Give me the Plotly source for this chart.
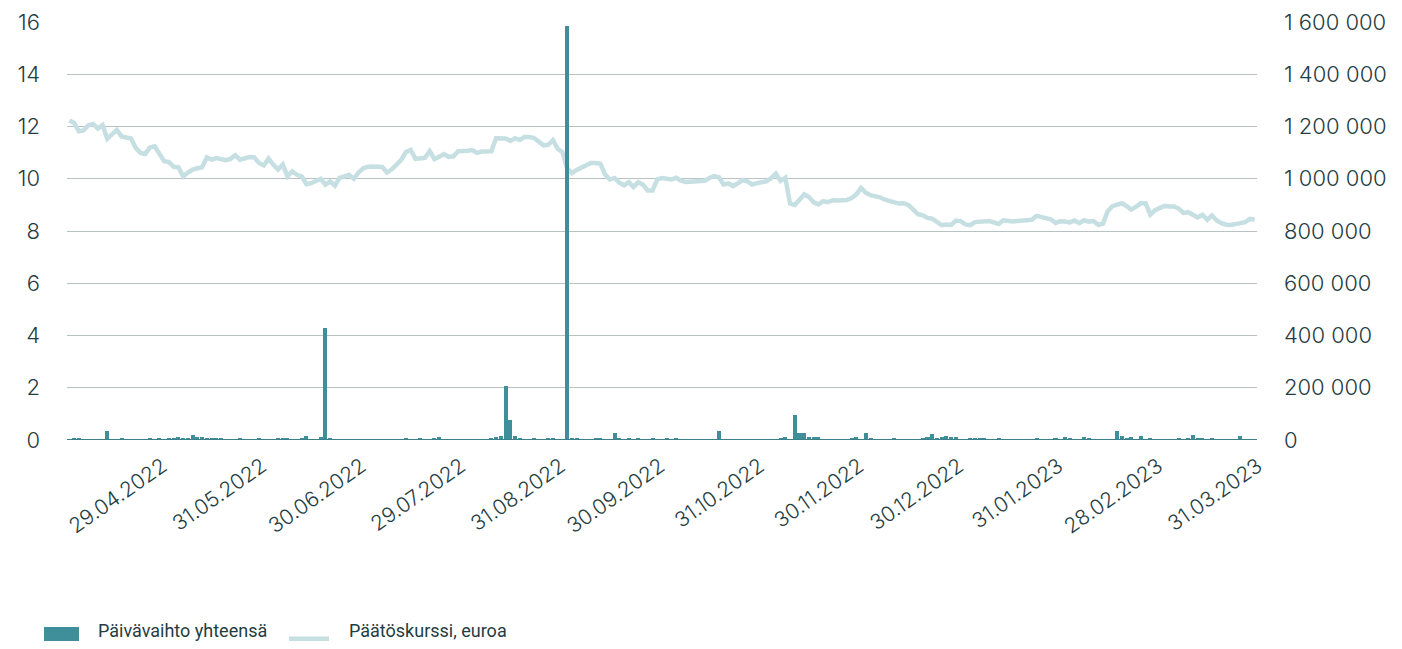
import plotly.graph_objects as go

# Päätöskurssi, euroa (one value per trading day, 252 days)
price = [
    12.23, 12.14, 11.82, 11.85, 12.05, 12.10, 11.92, 12.05, 11.53, 11.69, 11.87, 11.62, 11.60, 11.54, 11.18, 10.99, 10.95, 11.20, 11.24, 10.92, 10.67,
    10.64, 10.46, 10.44, 10.09, 10.24, 10.35, 10.40, 10.44, 10.82, 10.73, 10.79, 10.76, 10.71, 10.76, 10.90, 10.73, 10.79, 10.83, 10.82, 10.60, 10.51,
    10.77, 10.54, 10.35, 10.54, 10.09, 10.28, 10.15, 10.09, 9.79, 9.83, 9.92, 10.00, 9.77, 9.90, 9.73, 10.03, 10.09, 10.15, 10.00, 10.24, 10.40,
    10.46, 10.47, 10.47, 10.45, 10.24, 10.36, 10.54, 10.72, 11.02, 11.10, 10.76, 10.78, 10.80, 11.06, 10.75, 10.84, 10.94, 10.84, 10.86, 11.05, 11.05,
    11.07, 11.10, 10.99, 11.04, 11.05, 11.05, 11.55, 11.56, 11.54, 11.45, 11.55, 11.48, 11.60, 11.60, 11.56, 11.42, 11.28, 11.30, 11.48, 11.15, 11.02,
    10.40, 10.22, 10.34, 10.44, 10.50, 10.60, 10.60, 10.57, 10.16, 9.97, 10.03, 9.85, 9.75, 9.87, 9.68, 9.87, 9.77, 9.55, 9.55, 9.98, 10.03,
    10.02, 9.97, 10.04, 9.93, 9.88, 9.90, 9.88, 9.91, 9.92, 10.03, 10.10, 10.06, 9.78, 9.82, 9.72, 9.82, 9.95, 9.90, 9.78, 9.83, 9.86,
    9.90, 10.02, 10.20, 9.92, 10.04, 9.05, 9.00, 9.20, 9.40, 9.30, 9.10, 9.02, 9.14, 9.10, 9.18, 9.17, 9.17, 9.19, 9.26, 9.40, 9.65,
    9.46, 9.37, 9.35, 9.29, 9.20, 9.14, 9.10, 9.05, 9.06, 9.00, 8.82, 8.64, 8.60, 8.50, 8.47, 8.35, 8.22, 8.25, 8.23, 8.40, 8.38,
    8.25, 8.22, 8.34, 8.36, 8.40, 8.38, 8.33, 8.27, 8.41, 8.38, 8.36, 8.38, 8.41, 8.42, 8.43, 8.58, 8.54, 8.53, 8.45, 8.31, 8.37,
    8.36, 8.33, 8.40, 8.30, 8.41, 8.36, 8.38, 8.24, 8.28, 8.76, 8.95, 9.02, 9.06, 8.95, 8.82, 8.93, 9.06, 9.06, 8.63, 8.80, 8.86,
    8.96, 8.94, 8.94, 8.86, 8.69, 8.72, 8.62, 8.52, 8.62, 8.43, 8.60, 8.40, 8.30, 8.24, 8.23, 8.25, 8.30, 8.34, 8.46, 8.43,
]

# Päivävaihto yhteensä (daily turnover, 252 days)
turnover = [
    0, 5000, 5000, 0, 0, 0, 3000, 0, 33000, 0, 0, 5000, 0, 0, 0, 0, 0, 4000, 0, 4000, 0,
    4000, 5000, 12000, 6000, 6000, 20000, 13000, 10000, 8000, 6000, 6000, 5000, 0, 0, 0, 8000, 0, 0, 0, 5000, 0,
    0, 0, 8000, 6000, 9000, 0, 0, 8000, 17000, 0, 0, 13000, 430000, 5000, 0, 0, 0, 0, 0, 0, 0,
    0, 0, 0, 0, 0, 0, 0, 0, 8000, 0, 0, 5000, 0, 0, 4000, 13000, 0, 0, 0, 0, 0,
    0, 0, 0, 0, 0, 8000, 12000, 17000, 207000, 78000, 17000, 5000, 0, 0, 8000, 0, 0, 5000, 5000, 0, 0,
    1585000, 5000, 5000, 0, 0, 0, 5000, 8000, 0, 0, 28000, 5000, 0, 5000, 0, 5000, 0, 0, 5000, 0, 0,
    5000, 0, 5000, 0, 0, 0, 0, 0, 0, 0, 0, 33000, 0, 0, 0, 0, 0, 0, 0, 0, 0,
    0, 0, 0, 5000, 10000, 0, 97000, 27000, 27000, 12000, 10000, 10000, 0, 0, 0, 0, 0, 0, 6000, 10000, 0,
    28000, 6000, 0, 0, 0, 0, 5000, 0, 0, 0, 0, 0, 4000, 10000, 24000, 6000, 12000, 15000, 13000, 13000, 0,
    0, 5000, 5000, 8000, 6000, 0, 0, 5000, 0, 0, 0, 0, 0, 0, 0, 5000, 0, 0, 0, 5000, 0,
    10000, 6000, 0, 0, 13000, 5000, 0, 0, 0, 0, 0, 33000, 15000, 6000, 10000, 0, 17000, 0, 5000, 0, 0,
    0, 0, 0, 5000, 0, 6000, 20000, 8000, 8000, 0, 6000, 0, 0, 0, 0, 0, 17000, 0, 0, 0, 0,
]

tick_labels = ["29.04.2022", "31.05.2022", "30.06.2022", "29.07.2022", "31.08.2022", "30.09.2022",
               "31.10.2022", "30.11.2022", "30.12.2022", "31.01.2023", "28.02.2023", "31.03.2023"]
left_ticks = [0, 2, 4, 6, 8, 10, 12, 14, 16]
right_ticks = [0, 200000, 400000, 600000, 800000, 1000000, 1200000, 1400000, 1600000]

n = len(price)
x = list(range(n))
tick_pos = list(range(n - 1 - 21 * (len(tick_labels) - 1), n, 21))

def fmt_space(v):
    return f"{v:,}".replace(",", " ")

BAR = "#3f8f9a"
LINE = "#c6dfe2"
TXT = "#1f3d42"
FONT = "Inter"
LEGFONT = "Roboto"

# page body has an 8px margin: the figure is drawn 8px right/down
W, H = 1386, 633
L, T = 59, 14          # plot area left/top within figure
PW, PH = 1190, 418     # plot area size

fig = go.Figure()
fig.add_trace(go.Scatter(x=x, y=price, mode="lines", name="Päätöskurssi, euroa",
                         line=dict(color=LINE, width=4.5), yaxis="y"))
fig.add_trace(go.Bar(x=x, y=turnover, name="Päivävaihto yhteensä", marker_color=BAR,
                     marker_line_width=0, width=0.85, yaxis="y2"))

tickfont = dict(family=FONT, size=22, color=TXT, weight=300)

fig.update_layout(
    width=W, height=H,
    margin=dict(l=L, r=W - L - PW, t=T, b=H - T - PH, pad=0, autoexpand=False),
    paper_bgcolor="white", plot_bgcolor="white",
    showlegend=False,
    font=dict(family=FONT, size=20, color=TXT),
    bargap=0,
    xaxis=dict(range=[-0.5, n - 0.5], tickvals=tick_pos, ticktext=tick_labels, tickangle=-35,
               showgrid=False, zeroline=False, showline=False, ticks="", automargin=False,
               ticklabelstandoff=9, ticklabelshift=3,
               tickfont=dict(family=FONT, size=21, color=TXT, weight=300)),
    yaxis=dict(range=[0, 16], tickvals=left_ticks, ticktext=[str(v) for v in left_ticks],
               showgrid=True, gridcolor="#b9c2c3", gridwidth=1, zeroline=False, automargin=False,
               showline=False, ticks="", ticklabelstandoff=26, tickfont=tickfont),
    yaxis2=dict(range=[0, 1600000], overlaying="y", side="right", tickvals=right_ticks,
                ticktext=[fmt_space(v) for v in right_ticks], showgrid=False, zeroline=False,
                automargin=False, showline=False, ticks="", ticklabelstandoff=26, tickfont=tickfont),
)

# baseline
fig.add_shape(type="line", xref="paper", yref="y", x0=0, x1=1, y0=0, y1=0,
              line=dict(color="#3b8189", width=2))

# custom legend (page coords converted to paper coords)
def px(xp):
    return (xp - 8 - L) / PW

def py(yp):
    return (T + PH - (yp - 8)) / PH

fig.add_shape(type="rect", xref="paper", yref="paper", x0=px(44), x1=px(79), y0=py(627), y1=py(643),
              fillcolor=BAR, line_width=0)
fig.add_annotation(xref="paper", yref="paper", x=px(96), y=py(630), text="Päivävaihto yhteensä",
                   showarrow=False, xanchor="left", yanchor="middle",
                   font=dict(family=LEGFONT, size=18, color=TXT))
fig.add_shape(type="line", xref="paper", yref="paper", x0=px(289), x1=px(329), y0=py(639), y1=py(639),
              line=dict(color=LINE, width=5))
fig.add_annotation(xref="paper", yref="paper", x=px(347), y=py(630), text="Päätöskurssi, euroa",
                   showarrow=False, xanchor="left", yanchor="middle",
                   font=dict(family=LEGFONT, size=18, color=TXT))

fig.write_html("out.html")
